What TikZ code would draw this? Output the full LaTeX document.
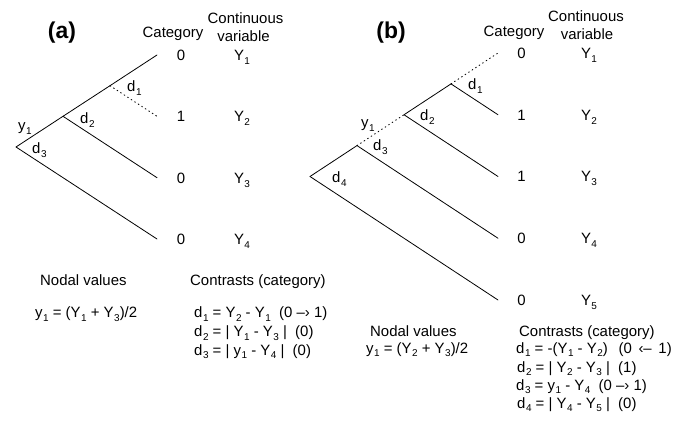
\documentclass[tikz,border=0pt]{standalone}
\usepackage{fontspec}
\setmainfont{Liberation Sans}
\newcommand{\tsub}[1]{\raisebox{-0.26em}{\fontsize{10}{10}\selectfont\kern0.5pt#1}}

\begin{document}
\begin{tikzpicture}[x=1bp,y=-1bp,line cap=round,line join=round,
  branch/.style={line width=0.8bp},
  gap/.style={line width=0.9bp,dash pattern=on 0.9bp off 3.3bp},
  txt/.style={inner sep=0pt,anchor=base,font=\fontsize{15}{18.5}\selectfont},
  txtl/.style={txt,anchor=base west},
  panel/.style={inner sep=0pt,font=\fontsize{23}{26}\selectfont\bfseries}]
\useasboundingbox (0,0) rectangle (675,434);

% (a) tree
\coordinate (aR) at (16,147);
\coordinate (aN2) at (63,116.3);
\coordinate (aN1) at (110,85.7);
\foreach \i/\y in {1/55,2/116.3,3/177.7,4/239}
  \coordinate (aT\i) at (157,\y);
\draw[branch] (aR) -- (aN2) -- (aN1) -- (aT1);
\draw[gap] (aN1) -- (aT2);
\draw[branch] (aN2) -- (aT3);
\draw[branch] (aR) -- (aT4);

\node[panel] (aP) at (62,33) {(a)};
\node[txt] (aCat) at (173,38) {Category};
\node[txt] (aCon) at (245.5,23.5) {Continuous};
\node[txt] (aVar) at (243.5,42) {variable};
\foreach \i/\c in {1/0,2/1,3/0,4/0} {
  \node[txt] (aC\i) at ([xshift=24bp,yshift=-5.5bp]aT\i) {\c};
  \node[txt] (aY\i) at ([xshift=85bp,yshift=-5.5bp]aT\i) {Y\tsub{\i}};
}
\node[txtl] (ay1) at (18,131) {y\tsub{1}};
\node[txtl] (ad3) at (32,154) {d\tsub{3}};
\node[txtl] (ad2) at (80,124) {d\tsub{2}};
\node[txtl] (ad1) at (127,92) {d\tsub{1}};

\node[txtl] (aNod) at (40,286) {Nodal values};
\node[txtl] (aCtr) at (190,286) {Contrasts (category)};
\node[txtl] (aEq) at (35,318) {y\tsub{1} = (Y\tsub{1} + Y\tsub{3})/2};
\node[txtl] (aD1) at (194,318) {d\tsub{1} = Y\tsub{2} - Y\tsub{1}\ \ (0 –› 1)};
\node[txtl] (aD2) at (194,337) {d\tsub{2} = | Y\tsub{1} - Y\tsub{3} |\ \ (0)};
\node[txtl] (aD3) at (194,355) {d\tsub{3} = | y\tsub{1} - Y\tsub{4} |\ \ (0)};

% (b) tree
\coordinate (bR) at (310,176.5);
\coordinate (bN3) at (357,145.6);
\coordinate (bN2) at (404,114.75);
\coordinate (bN1) at (451,83.9);
\foreach \i/\y in {1/53,2/114.75,3/176.5,4/238.25,5/300}
  \coordinate (bT\i) at (498,\y);
\draw[branch] (bR) -- (bN3);
\draw[gap] (bN3) -- (bN2);
\draw[branch] (bN2) -- (bN1);
\draw[gap] (bN1) -- (bT1);
\draw[branch] (bN1) -- (bT2);
\draw[branch] (bN2) -- (bT3);
\draw[branch] (bN3) -- (bT4);
\draw[branch] (bR) -- (bT5);

\node[panel] (bP) at (391,33) {(b)};
\node[txt] (bCat) at (514,37) {Category};
\node[txt] (bCon) at (586,22) {Continuous};
\node[txt] (bVar) at (587,40) {variable};
\foreach \i/\c in {1/0,2/1,3/1,4/0,5/0} {
  \node[txt] (bC\i) at ([xshift=23.5bp,yshift=-5.5bp]bT\i) {\c};
  \node[txt] (bY\i) at ([xshift=91bp,yshift=-5.5bp]bT\i) {Y\tsub{\i}};
}
\node[txtl] (by1) at (361,128) {y\tsub{1}};
\node[txtl] (bd3) at (373,151) {d\tsub{3}};
\node[txtl] (bd4) at (332,183) {d\tsub{4}};
\node[txtl] (bd2) at (420,121) {d\tsub{2}};
\node[txtl] (bd1) at (468,90) {d\tsub{1}};

\node[txtl] (bNod) at (370,337) {Nodal values};
\node[txtl] (bCtr) at (519,337) {Contrasts (category)};
\node[txtl] (bEq) at (366,353) {y\tsub{1} = (Y\tsub{2} + Y\tsub{3})/2};
\node[txtl] (bD1) at (516,353) {d\tsub{1} = -(Y\tsub{1} - Y\tsub{2})\ \ \,(0\ \,‹–\ \,1)};
\node[txtl] (bD2) at (517,372) {d\tsub{2} = | Y\tsub{2} - Y\tsub{3} |\ \ (1)};
\node[txtl] (bD3) at (516,390) {d\tsub{3} = y\tsub{1} - Y\tsub{4}\ \ (0 –› 1)};
\node[txtl] (bD4) at (517,408) {d\tsub{4} = | Y\tsub{4} - Y\tsub{5} |\ \ (0)};
\end{tikzpicture}
\end{document}
